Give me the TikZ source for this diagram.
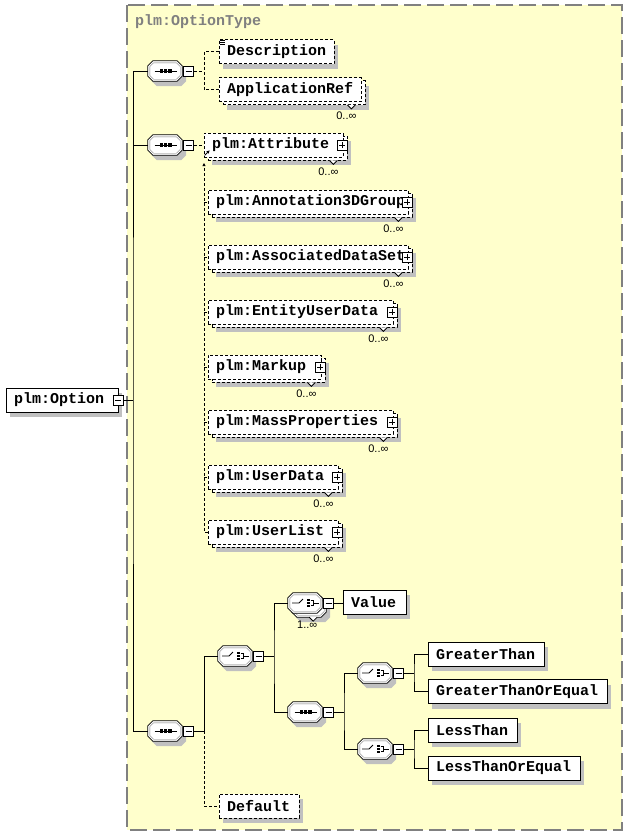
\documentclass[tikz,border=0pt]{standalone}
\usepackage{fontspec}
\setmonofont{Liberation Mono}
\newfontfamily\lblfont{Liberation Sans}
\usetikzlibrary{shadows,calc,arrows.meta}
\definecolor{bgyellow}{RGB}{255,255,204}
\definecolor{shadowgray}{RGB}{192,192,192}
\definecolor{framegray}{RGB}{128,128,128}
\tikzset{
  elbox/.style={rectangle, draw, fill=white, minimum height=24pt, inner xsep=8pt, inner ysep=0pt,
    line width=0.8pt, font=\fontsize{15}{18}\selectfont\ttfamily\bfseries},
  optline/.style={dash pattern=on 3pt off 2pt},
  shad/.style={drop shadow={shadow xshift=4pt, shadow yshift=-5pt, fill=shadowgray, opacity=1}},
  conn/.style={line width=0.8pt},
  mbox/.style={rectangle, draw, fill=white, minimum size=10pt, inner sep=0pt, line width=0.8pt,
    path picture={\draw[line width=0.8pt] ([xshift=2pt]path picture bounding box.west) -- ([xshift=-2pt]path picture bounding box.east);}},
  pbox/.style={rectangle, draw, fill=white, minimum size=10pt, inner sep=0pt, line width=0.8pt,
    path picture={\draw[line width=0.8pt] ([xshift=2pt]path picture bounding box.west) -- ([xshift=-2pt]path picture bounding box.east)
      ([yshift=2pt]path picture bounding box.south) -- ([yshift=-2pt]path picture bounding box.north);}},
  compo/.style={rectangle, minimum width=34pt, minimum height=20pt, inner sep=0pt},
  multlbl/.style={inner sep=0pt, font=\fontsize{11}{12}\selectfont\lblfont},
  seqicon/.pic={
    \draw[line width=0.8pt] (-10.5,0) -- (11.5,0);
    \fill (-5,-1.6) rectangle ++(3.2,3.2);
    \fill (-0.8,-1.6) rectangle ++(3.2,3.2);
    \fill (3.4,-1.6) rectangle ++(3.2,3.2);
  },
  choicon/.pic={
    \draw[line width=0.8pt] (-13,0) -- (-6,0) -- (-2,-4);
    \fill (1.5,-4.3) rectangle ++(3,2.6);
    \fill (1.5,-1.3) rectangle ++(3,2.6);
    \fill (1.5,1.7) rectangle ++(3,2.6);
    \draw[line width=0.8pt] (5.5,-2.8) -- (8.5,-2.8) -- (8.5,2.8) -- (5.5,2.8) (8.5,0) -- (14.3,0);
  },
}
\newcommand\octa[2]{% node name, 1 = with shadow
  \ifnum#2=1
  \fill[shadowgray] ($(#1.north west)+(4,10)$) -- ($(#1.north west)+(9,5)$) -- ($(#1.north east)+(-1,5)$) -- ($(#1.north east)+(4,10)$)
    -- ($(#1.south east)+(4,0)$) -- ($(#1.south east)+(-1,5)$) -- ($(#1.south west)+(9,5)$) -- ($(#1.south west)+(4,0)$) -- cycle;
  \fi
  \filldraw[fill=white, line width=0.8pt] ($(#1.north west)+(0,5)$) -- ($(#1.north west)+(5,0)$) -- ($(#1.north east)+(-5,0)$) -- ($(#1.north east)+(0,5)$)
    -- ($(#1.south east)+(0,-5)$) -- ($(#1.south east)+(-5,0)$) -- ($(#1.south west)+(5,0)$) -- ($(#1.south west)+(0,-5)$) -- cycle;
  \draw[line width=0.4pt, black!55] ($(#1.north west)+(2,5.8)$) -- ($(#1.north west)+(5.8,2)$) -- ($(#1.north east)+(-5.8,2)$) -- ($(#1.north east)+(-2,5.8)$)
    -- ($(#1.south east)+(-2,-5.8)$) -- ($(#1.south east)+(-5.8,-2)$) -- ($(#1.south west)+(5.8,-2)$) -- ($(#1.south west)+(2,-5.8)$) -- cycle;}
\newcommand\selem[6]{%
  \node[elbox,#6,shad,minimum width={#3-#2}] (#1) at ({(#2+#3)/2},{#4}) {\makebox[\dimexpr#3pt-#2pt-16pt\relax][l]{#5}};}
\newcommand\melem[6]{%
  \node[elbox,optline,shad,minimum width={#3-#2}] (#1b) at ({(#2+#3)/2+4},{#4+3}) {};
  \node[elbox,optline,minimum width={#3-#2}] (#1) at ({(#2+#3)/2},{#4}) {\makebox[\dimexpr#3pt-#2pt-16pt\relax][l]{#5}};
  \draw[line width=0.8pt, fill=white] ($(#1b.south east)+(-18,0)$) -- ++(4,4) -- ++(4,-4);
  \node[multlbl] (#1l) at ($(#1b.south east)+(-19,11)$) {0..∞};
  \ifnum#6=1 \node[pbox] (#1p) at ($(#1.east)+(-1,0)$) {};\fi}
\begin{document}
\begin{tikzpicture}[x=1pt,y=-1pt]
\useasboundingbox (0,0) rectangle (628,836);
\draw[fill=bgyellow, draw=framegray, line width=1.3pt, dash pattern=on 17pt off 6pt] (127,5) rectangle (622,830);
\node[anchor=base west, inner sep=0pt, text=framegray, font=\fontsize{15}{18}\selectfont\ttfamily\bfseries] (title) at (135,25) {plm:OptionType};

% root element
\selem{opt}{6}{118}{400}{plm:Option}{solid}
\node[mbox] (optm) at (118,400) {};

% compositors
\foreach \nm/\cx/\cy in {s1/165/71, s2/165/145, s3/165/731, s4/305/712}{
  \node[compo] (\nm) at (\cx,\cy) {};
  \octa{\nm}{1}
  \node[mbox, anchor=west] (\nm m) at ([xshift=1pt]\nm.east) {};
  \pic at (\nm) {seqicon};
}
\node[compo] (c2b) at (309,607) {};
\octa{c2b}{1}
\draw[line width=0.8pt, fill=white] ($(c2b.south east)+(-17,0)$) -- ++(4,4) -- ++(4,-4);
\node[multlbl] (c2l) at ($(c2b.south east)+(-19,8)$) {1..∞};
\node[compo] (c2) at (305,603) {};
\octa{c2}{0}
\node[mbox, anchor=west] (c2m) at ([xshift=1pt]c2.east) {};
\pic at (c2) {choicon};
\foreach \nm/\cx/\cy in {c1/235/656, c3/375/673, c4/375/749}{
  \node[compo] (\nm) at (\cx,\cy) {};
  \octa{\nm}{1}
  \node[mbox, anchor=west] (\nm m) at ([xshift=1pt]\nm.east) {};
  \pic at (\nm) {choicon};
}

% elements
\selem{desc}{219}{334}{51.5}{Description}{optline}
\draw[line width=0.7pt] ($(desc.north west)+(1,1)$) -- ++(5,0) ($(desc.north west)+(1,3)$) -- ++(5,0) ($(desc.north west)+(1,5)$) -- ++(5,0);
\melem{appref}{219}{361}{89.5}{ApplicationRef}{0}
\melem{attr}{204}{343}{145}{plm:Attribute}{1}
\melem{ann}{208}{408}{202}{plm:Annotation3DGroup}{1}
\melem{ads}{208}{408}{257}{plm:AssociatedDataSet}{1}
\melem{eud}{208}{393}{312}{plm:EntityUserData}{1}
\melem{markup}{208}{321}{367}{plm:Markup}{1}
\melem{mass}{208}{393}{422}{plm:MassProperties}{1}
\melem{ud}{208}{338}{477}{plm:UserData}{1}
\melem{ul}{208}{338}{532}{plm:UserList}{1}
\selem{value}{343}{406}{602}{Value}{solid}
\selem{gt}{428}{544}{654}{GreaterThan}{solid}
\selem{gte}{428}{607}{691.5}{GreaterThanOrEqual}{solid}
\selem{lt}{428}{517}{730}{LessThan}{solid}
\selem{lte}{428}{580}{768}{LessThanOrEqual}{solid}
\selem{default}{219}{299}{806}{Default}{optline}

% connectors
\coordinate (trunk) at (133,400);
\draw[conn] (optm.east) -- (trunk);
\draw[conn] (s1.west) -| (trunk) |- (s3.west);
\draw[conn] (s2.west) -- (s2.west -| trunk);

\coordinate (j1) at ($(s1m.east)+(10,0)$);
\draw[conn,optline] (s1m.east) -- (j1);
\draw[conn,optline] (desc.west) -| (j1) |- (appref.west);

\coordinate (j2) at ($(s2m.east)+(10,0)$);
\coordinate (j2up) at ($(j2)+(0,18)$);
\draw[conn,optline] (s2m.east) -- (attr.west);
\draw[conn,optline,-{Triangle[length=3pt,width=3pt]}] (ul.west) -| (j2up);
\foreach \n in {ann,ads,eud,markup,mass,ud}{\draw[conn,optline] (\n.west -| j2) -- (\n.west);}
\draw[conn,-{Triangle[length=3pt,width=3pt]}] ($(attr.south west)+(1,-2)$) -- ($(attr.south west)+(6,-7)$);

\coordinate (j3) at ($(s3m.east)+(10,0)$);
\draw[conn] (s3m.east) -- (j3) |- (c1.west);
\draw[conn,optline] (j3) |- (default.west);

\coordinate (j4) at ($(c1m.east)+(10,0)$);
\draw[conn] (c1m.east) -- (j4);
\draw[conn] (c2.west) -| (j4) |- (s4.west);
\draw[conn] (c2m.east) -- (c2m.east -| value.west);

\coordinate (j5) at ($(s4m.east)+(10,0)$);
\draw[conn] (s4m.east) -- (j5);
\draw[conn] (c3.west) -| (j5) |- (c4.west);

\coordinate (j6) at ($(c3m.east)+(10,0)$);
\draw[conn] (c3m.east) -- (j6);
\draw[conn] (gt.west) -| (j6) |- (gte.west);

\coordinate (j7) at ($(c4m.east)+(10,0)$);
\draw[conn] (c4m.east) -- (j7);
\draw[conn] (lt.west) -| (j7) |- (lte.west);
\end{tikzpicture}
\end{document}
